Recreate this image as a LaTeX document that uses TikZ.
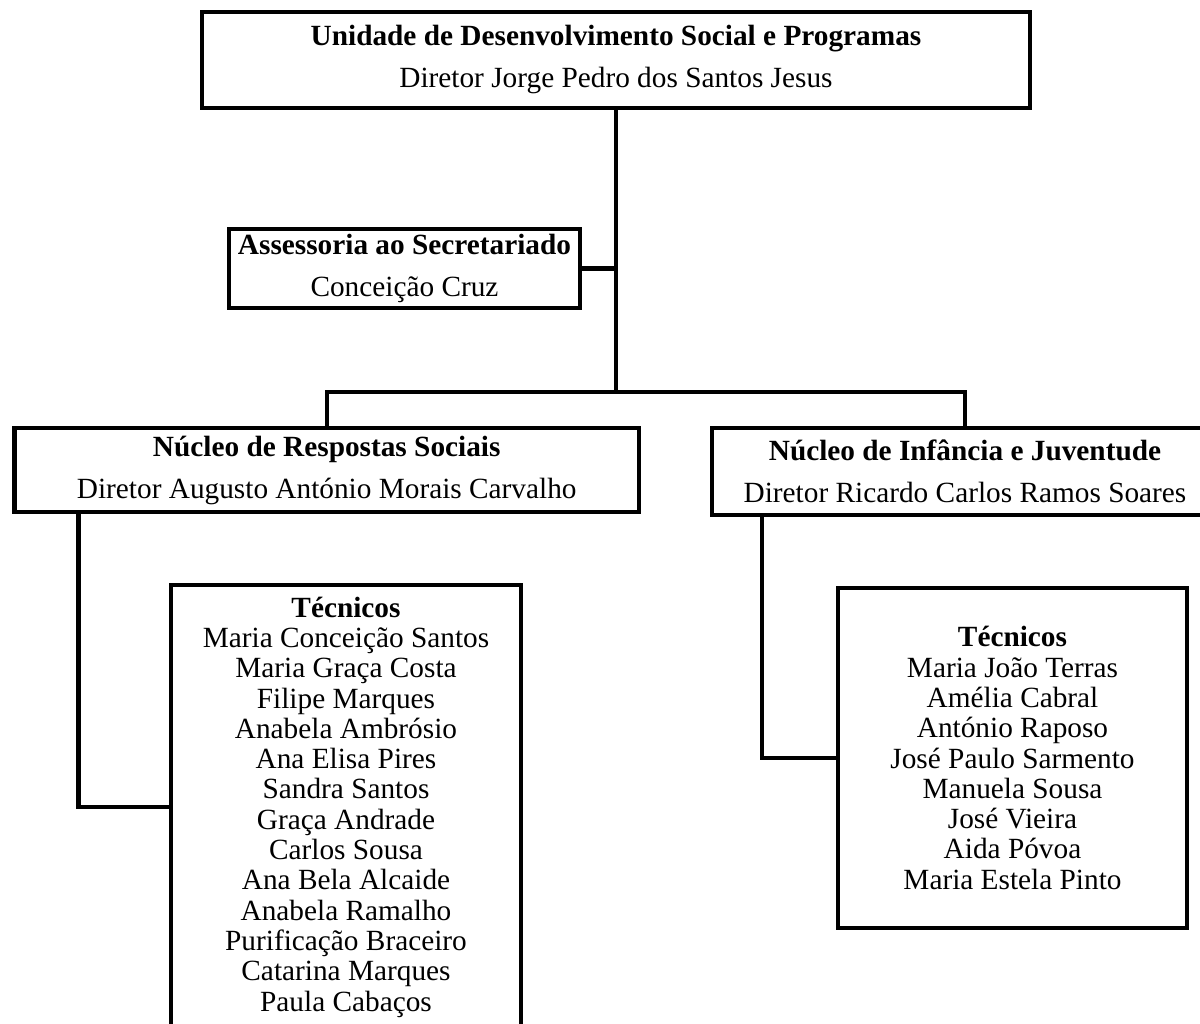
\documentclass[tikz,border=0pt]{standalone}
\usepackage{fontspec}
\setmainfont{Liberation Serif}
\begin{document}
\begin{tikzpicture}[
    x=1pt, y=-1pt,
    unit/.style={rectangle, draw, line width=4.5pt, align=center, inner sep=0pt, font={\fontsize{29.3}{42}\selectfont}},
    staff/.style={rectangle, draw, line width=4.5pt, align=center, inner sep=0pt, font={\fontsize{29.3}{30.3}\selectfont}},
    link/.style={line width=4.5pt}
]
    \useasboundingbox (0,0) rectangle (1200,1024);

    % unidades
    \node[unit, minimum width=828pt, minimum height=96pt] (udsp) at (616,60)
        {\textbf{Unidade de Desenvolvimento Social e Programas}\\Diretor Jorge Pedro dos Santos Jesus};
    \node[unit, minimum width=351pt, minimum height=79pt] (assessoria) at (404.5,268.5)
        {\textbf{Assessoria ao Secretariado}\\Conceição Cruz};
    \node[unit, minimum width=624.5pt, minimum height=84pt] (nrs) at (326.75,470)
        {\textbf{Núcleo de Respostas Sociais}\\Diretor Augusto António Morais Carvalho};
    \node[unit, minimum width=506pt, minimum height=87pt] (nij) at (965,471.5)
        {\textbf{Núcleo de Infância e Juventude}\\Diretor Ricardo Carlos Ramos Soares};

    % técnicos
    \node[staff, minimum width=350pt, minimum height=444pt] (tecnrs) at (346,807)
        {\textbf{Técnicos}\\Maria Conceição Santos\\Maria Graça Costa\\Filipe Marques\\Anabela Ambrósio\\Ana Elisa Pires\\Sandra Santos\\Graça Andrade\\Carlos Sousa\\Ana Bela Alcaide\\Anabela Ramalho\\Purificação Braceiro\\Catarina Marques\\Paula Cabaços};
    \node[staff, minimum width=349pt, minimum height=340pt] (tecnij) at (1012.5,758)
        {\textbf{Técnicos}\\Maria João Terras\\Amélia Cabral\\António Raposo\\José Paulo Sarmento\\Manuela Sousa\\José Vieira\\Aida Póvoa\\Maria Estela Pinto};

    % ligações
    \coordinate (bus) at (616,392);
    \coordinate (nrsleg) at (78.5,0);
    \coordinate (nijleg) at (762,0);
    \draw[link] (udsp.south) -- (bus);
    \draw[link] (assessoria.east) -- (assessoria.east -| bus);
    \draw[link] (nrs.north) |- (bus) -| (nij.north);
    \draw[link] (nrs.south -| nrsleg) |- (tecnrs.west);
    \draw[link] (nij.south -| nijleg) |- (tecnij.west);
\end{tikzpicture}
\end{document}
